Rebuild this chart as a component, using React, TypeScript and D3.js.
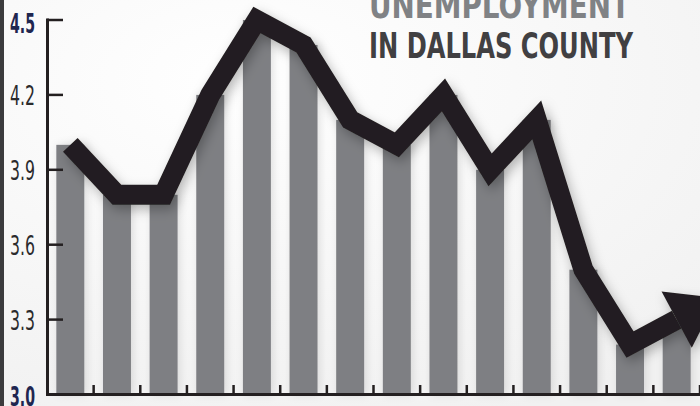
import React from "react";
import * as d3 from "d3";

const categories = ["1", "2", "3", "4", "5", "6", "7", "8", "9", "10", "11", "12", "13", "14"];
const rateValues = [4.0, 3.8, 3.8, 4.2, 4.5, 4.4, 4.1, 4.0, 4.2, 3.9, 4.1, 3.5, 3.2, 3.3];
const yTicks = [3.0, 3.3, 3.6, 3.9, 4.2, 4.5];
const titleLines = ["UNEMPLOYMENT", "IN DALLAS COUNTY"];

const W = 700;
const H = 406;

export default function App() {
  const x = d3.scaleBand<string>().domain(categories).range([47, 700]).padding(0);
  const y = d3.scaleLinear().domain([3.0, 4.5]).range([394.5, 20]);
  const bw = x.bandwidth();
  const barW = bw * 0.6;

  const pts: [number, number][] = categories.map((c, i) => [
    (x(c) as number) + bw / 2,
    y(rateValues[i]),
  ]);
  const linePath = d3.line()(pts) as string;

  const n = pts.length;
  const p1 = pts[n - 2];
  const p2 = pts[n - 1];
  const dx = p2[0] - p1[0];
  const dy = p2[1] - p1[1];
  const len = Math.hypot(dx, dy);
  const ux = dx / len;
  const uy = dy / len;
  const px = -uy;
  const py = ux;
  const half = 32;
  const headLen = 46;
  const arrow = [
    [p2[0] + px * half, p2[1] + py * half],
    [p2[0] - px * half, p2[1] - py * half],
    [p2[0] + ux * headLen, p2[1] + uy * headLen],
  ]
    .map((p) => p.join(","))
    .join(" ");

  const font = "'Liberation Sans Narrow', 'DejaVu Sans Condensed', sans-serif";

  return (
    <svg
      width={W}
      height={H}
      style={{ position: "absolute", left: 0, top: 0 }}
      xmlns="http://www.w3.org/2000/svg"
    >
      <defs>
        <filter id="lineShadow" x="-10%" y="-10%" width="120%" height="130%">
          <feDropShadow dx="3" dy="5" stdDeviation="6" floodColor="#000" floodOpacity="0.28" />
        </filter>
        <filter id="barShadow" x="-40%" y="-10%" width="180%" height="120%">
          <feDropShadow dx="2" dy="0" stdDeviation="4" floodColor="#000" floodOpacity="0.12" />
        </filter>
        <radialGradient id="bg" cx="0.35" cy="0.2" r="0.9">
          <stop offset="0" stopColor="#ffffff" />
          <stop offset="1" stopColor="#f1f1f1" />
        </radialGradient>
      </defs>
      <rect x={0} y={0} width={W} height={H} fill="url(#bg)" />
      <rect x={0} y={0} width={4} height={H} fill="#3b3b3d" />

      {/* title */}
      <text
        x={369}
        y={18}
        fontFamily={font}
        fontWeight="bold"
        fontSize={36}
        fill="#808285"
        textLength={261}
        lengthAdjust="spacingAndGlyphs"
      >
        {titleLines[0]}
      </text>
      <text
        x={369}
        y={58}
        fontFamily={font}
        fontWeight="bold"
        fontSize={36}
        fill="#414042"
        textLength={264}
        lengthAdjust="spacingAndGlyphs"
      >
        {titleLines[1]}
      </text>

      {/* bars */}
      <g filter="url(#barShadow)">
        {categories.map((c, i) => (
          <rect
            key={c}
            x={(x(c) as number) + (bw - barW) / 2}
            y={y(rateValues[i])}
            width={barW}
            height={y(3.0) - y(rateValues[i])}
            fill="#7e7f83"
          />
        ))}
      </g>

      {/* axes */}
      <line x1={47.5} x2={47.5} y1={18.5} y2={396} stroke="#231f20" strokeWidth={3} />
      <line x1={46} x2={700} y1={394.5} y2={394.5} stroke="#231f20" strokeWidth={3} />
      {yTicks.map((t) => (
        <line key={t} x1={47} x2={63} y1={y(t)} y2={y(t)} stroke="#231f20" strokeWidth={2.5} />
      ))}
      {categories.map((c) => (
        <line
          key={c}
          x1={(x(c) as number) + bw}
          x2={(x(c) as number) + bw}
          y1={394}
          y2={385}
          stroke="#231f20"
          strokeWidth={2.5}
        />
      ))}

      {/* y labels */}
      {yTicks.map((t, i) => {
        const edge = i === 0 || i === yTicks.length - 1;
        const off = i === yTicks.length - 1 ? 4 : i === 0 ? 2 : 1;
        return (
          <text
            key={t}
            x={10}
            y={y(t) + off}
            dominantBaseline="central"
            fontFamily={font}
            fontWeight={edge ? "bold" : "normal"}
            fontSize={26}
            fill={edge ? "#1f2650" : "#2b2b2d"}
            textLength={25}
            lengthAdjust="spacingAndGlyphs"
          >
            {t.toFixed(1)}
          </text>
        );
      })}

      {/* line with arrow */}
      <g filter="url(#lineShadow)">
        <path
          d={linePath}
          fill="none"
          stroke="#231f20"
          strokeWidth={20}
          strokeLinejoin="miter"
          strokeMiterlimit={10}
          strokeLinecap="butt"
        />
        <polygon points={arrow} fill="#231f20" />
      </g>
    </svg>
  );
}
